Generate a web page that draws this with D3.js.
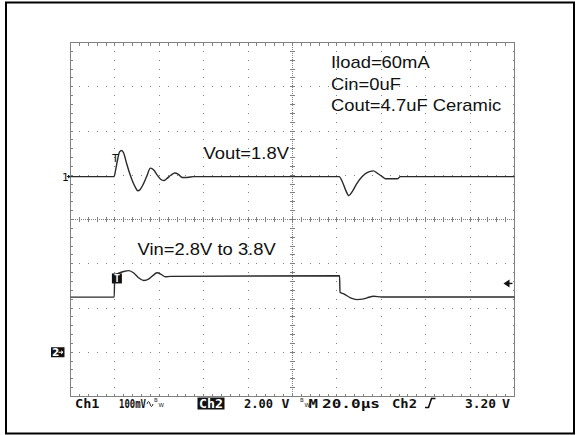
<!DOCTYPE html>
<html>
<head>
<meta charset="utf-8">
<script src="https://cdn.jsdelivr.net/npm/d3@7/dist/d3.min.js"></script>
<style>
  body { margin: 0; background: #fff; }
  svg { display: block; }
</style>
</head>
<body>
<svg id="scope"></svg>
<script>
const W = 576, H = 435;

// horizontal: 20us/div, 10 divisions
const timeRange = [0, 200];

// Ch1: Vout, AC, mV around 1.8V (100mV/div)
const voutT  = [0, 19.6, 20.3, 21.2, 22.1, 23.0, 23.9, 25.2, 26.6, 27.9, 29.3, 30.3, 31.4, 32.8, 34.3, 36.0, 37.5, 39.0, 40.6, 42.0, 43.5, 45.2, 47.0, 48.6, 50.3, 52.5, 55.4,
                121.0, 122.4, 123.9, 125.4, 126.9, 129.1, 131.4, 133.6, 136.4, 138.2, 140.4, 141.9, 147.2, 148.6, 200];
const voutMv = [0, 0, 14, 38, 56, 59, 54, 31, 8, -10, -25, -32, -29, -17, 0, 19, 15, 4, -6, -9, -4, 3, 8, 5, -2, -2, 0,
                0, -11, -30, -43, -34, -15, 0, 9, 13, 7.5, 0, -5, -5, 0, 0];

// Ch2: Vin in volts (2V/div)
const vinT = [0, 19.7, 19.9, 21.5, 24.0, 26.3, 28.5, 30.5, 33.0, 35.5, 37.5, 39.0, 40.8, 42.8, 45.0, 121.2, 121.4, 123.1, 126.1, 129.1, 131.5, 133.6, 136.6, 140.0, 200];
const vinV = [2.49, 2.49, 3.45, 3.56, 3.65, 3.69, 3.58, 3.38, 3.24, 3.33, 3.50, 3.59, 3.52, 3.41, 3.43, 3.46, 2.71, 2.64, 2.46, 2.38, 2.40, 2.46, 2.53, 2.50, 2.50];

const ch1Pos = 0.97, ch1PerDiv = 100;   // mV
const ch2Pos = -3,   ch2PerDiv = 2;     // V
const trigTime = 20, trigLevel = 3.2;

const notes = ["Iload=60mA", "Cin=0uF", "Cout=4.7uF Ceramic"];
const voutLabel = "Vout=1.8V";
const vinLabel = "Vin=2.8V to 3.8V";
const statusLabels = ["Ch1", "100mV", "2.00", "V", "M", "20.0µs", "Ch2", "3.20", "V"];
const ch2BoxLabel = "Ch2";

const svg = d3.select('#scope').attr('width', W).attr('height', H);

svg.append('rect')
  .attr('x', 6).attr('y', 2.5).attr('width', 568).attr('height', 431)
  .attr('fill', 'none').attr('stroke', '#000').attr('stroke-width', 2);

const x = d3.scaleLinear().domain(timeRange).range([70.5, 514.5]);
const div = d3.scaleLinear().domain([-4, 4]).range([396.5, 42.5]);
const y1 = (v) => div(ch1Pos + v / ch1PerDiv);
const y2 = (v) => div(ch2Pos + v / ch2PerDiv);

const gridColor = '#808080';
const grid = svg.append('g').attr('shape-rendering', 'crispEdges');

// frame
grid.append('rect')
  .attr('x', x(0)).attr('y', div(4))
  .attr('width', x(200) - x(0)).attr('height', div(-4) - div(4))
  .attr('fill', 'none').attr('stroke', gridColor);

const minorDivs = d3.range(-4, 4.001, 0.2);
const minorTimes = d3.range(0, 200.001, 4);

// dotted major lines
d3.range(20, 200, 20).filter(t => t !== 100).forEach(t => {
  grid.selectAll(null).data(minorDivs).enter().append('rect')
    .attr('x', x(t) - 0.5).attr('y', d => div(d) - 0.5)
    .attr('width', 1).attr('height', 1).attr('fill', gridColor);
});
[-3, -2, -1, 1, 2, 3].forEach(d => {
  grid.selectAll(null).data(minorTimes).enter().append('rect')
    .attr('x', t => x(t) - 0.5).attr('y', div(d) - 0.5)
    .attr('width', 1).attr('height', 1).attr('fill', gridColor);
});

// center cross with ticks
grid.append('line')
  .attr('x1', x(100)).attr('x2', x(100)).attr('y1', div(4)).attr('y2', div(-4))
  .attr('stroke', gridColor).attr('stroke-dasharray', '1,1');
grid.append('line')
  .attr('x1', x(0)).attr('x2', x(200)).attr('y1', div(0)).attr('y2', div(0))
  .attr('stroke', gridColor).attr('stroke-dasharray', '1,1');
grid.selectAll('.vtick').data(minorDivs).enter().append('line')
  .attr('x1', x(100) - 2.5).attr('x2', x(100) + 2.5)
  .attr('y1', d => div(d)).attr('y2', d => div(d))
  .attr('stroke', gridColor);
grid.selectAll('.htick').data(minorTimes).enter().append('line')
  .attr('x1', t => x(t)).attr('x2', t => x(t))
  .attr('y1', div(0) - 2.5).attr('y2', div(0) + 2.5)
  .attr('stroke', gridColor);

// edge ticks
grid.selectAll('.ttick').data(minorTimes).enter().append('line')
  .attr('x1', t => x(t)).attr('x2', t => x(t))
  .attr('y1', div(4)).attr('y2', div(4) + 3).attr('stroke', gridColor);
grid.selectAll('.btick').data(minorTimes).enter().append('line')
  .attr('x1', t => x(t)).attr('x2', t => x(t))
  .attr('y1', div(-4)).attr('y2', div(-4) - 3).attr('stroke', gridColor);
grid.selectAll('.ltick').data(minorDivs).enter().append('line')
  .attr('x1', x(0)).attr('x2', x(0) + 2)
  .attr('y1', d => div(d)).attr('y2', d => div(d)).attr('stroke', gridColor);
grid.selectAll('.rtick').data(minorDivs).enter().append('line')
  .attr('x1', x(200)).attr('x2', x(200) - 2)
  .attr('y1', d => div(d)).attr('y2', d => div(d)).attr('stroke', gridColor);

// traces
const line1 = d3.line().x(d => x(d[0])).y(d => y1(d[1])).curve(d3.curveMonotoneX);
const line2 = d3.line().x(d => x(d[0])).y(d => y2(d[1])).curve(d3.curveMonotoneX);

svg.append('path')
  .datum(d3.zip(voutT, voutMv))
  .attr('d', line1)
  .attr('fill', 'none').attr('stroke', '#2a2a2a').attr('stroke-width', 1.4);

svg.append('path')
  .datum(d3.zip(vinT, vinV))
  .attr('d', line2)
  .attr('fill', 'none').attr('stroke', '#2a2a2a').attr('stroke-width', 1.4);

// trigger marks
svg.append('text')
  .attr('x', x(trigTime) + 0.5).attr('y', y1(0) - 15)
  .attr('text-anchor', 'middle').attr('fill', '#111')
  .attr('font-family', 'DejaVu Sans Mono').attr('font-size', 11)
  .text('T');

svg.append('rect')
  .attr('x', x(trigTime) - 3).attr('y', y2(trigLevel) - 8)
  .attr('width', 10).attr('height', 10).attr('fill', '#111');
svg.append('text')
  .attr('x', x(trigTime) + 2).attr('y', y2(trigLevel) + 0.5)
  .attr('text-anchor', 'middle').attr('fill', '#fff')
  .attr('font-family', 'DejaVu Sans Mono').attr('font-weight', 'bold').attr('font-size', 10)
  .text('T');

// trigger level arrow at right edge
const ty = y2(trigLevel) + 2;
svg.append('path')
  .attr('d', `M${x(200) - 11},${ty} l6,-4 v8 z`)
  .attr('fill', '#111');
svg.append('line')
  .attr('x1', x(200) - 6).attr('x2', x(200) - 2).attr('y1', ty).attr('y2', ty)
  .attr('stroke', '#111').attr('stroke-width', 1.4);

// channel ground markers
const m1 = div(ch1Pos);
svg.append('text')
  .attr('x', 62).attr('y', m1 + 4)
  .attr('fill', '#111')
  .attr('font-family', 'DejaVu Sans').attr('font-size', 11)
  .text('1');
svg.append('path')
  .attr('d', `M67,${m1} H70 M68,${m1 - 1.5} L70,${m1} L68,${m1 + 1.5}`)
  .attr('fill', 'none').attr('stroke', '#111').attr('stroke-width', 1);

const m2 = div(ch2Pos);
svg.append('rect')
  .attr('x', 51).attr('y', m2 - 5).attr('width', 13.5).attr('height', 10).attr('fill', '#111');
svg.append('text')
  .attr('x', 52).attr('y', m2 + 4)
  .attr('fill', '#fff')
  .attr('font-family', 'DejaVu Sans').attr('font-weight', 'bold').attr('font-size', 10.5)
  .text('2');
svg.append('path')
  .attr('d', `M58.5,${m2} H63 M61,${m2 - 1.5} L63,${m2} L61,${m2 + 1.5}`)
  .attr('fill', 'none').attr('stroke', '#fff').attr('stroke-width', 1);

// annotation text (horizontally stretched like the original capture)
const ann = (s, ax, ay) => svg.append('text')
  .attr('transform', `translate(${ax},${ay}) scale(1.15,1)`)
  .attr('font-family', 'Liberation Sans, Arial, sans-serif').attr('font-size', 16)
  .attr('fill', '#111')
  .text(s);

notes.forEach((s, i) => ann(s, 331, 68 + i * 21.6));
ann(voutLabel, 203.5, 158.5);
ann(vinLabel, 137.5, 254.5);

// status line: each piece squeezed to the width it has on the scope screen
const statusX = [75, 119, 244, 281.5, 308.5, 322, 392, 465, 502];
const statusW = [24.5, 27, 29, 8, 9.5, 58, 25, 31, 8];
const statusY = 408;

function fitText(s, sx, sw, color) {
  const t = svg.append('text')
    .attr('font-family', 'DejaVu Sans Mono').attr('font-weight', 'bold').attr('font-size', 12.5)
    .attr('fill', color)
    .text(s);
  const natural = t.node().getComputedTextLength();
  t.attr('transform', `translate(${sx},${statusY}) scale(${sw / natural},1)`);
  return t;
}

svg.append('rect')
  .attr('x', 197.5).attr('y', 397.5).attr('width', 27).attr('height', 12).attr('fill', '#111');
fitText(ch2BoxLabel, 199, 24, '#fff');

statusLabels.forEach((s, i) => fitText(s, statusX[i], statusW[i], '#111'));

// small bandwidth / coupling symbols
svg.append('path')
  .attr('d', 'M147,404 q1.5,-5 3,0 t3,0')
  .attr('fill', 'none').attr('stroke', '#111').attr('stroke-width', 0.9);
[[154, 402, 'B'], [158.5, 406.5, 'W'], [300, 402, 'B'], [304.5, 406.5, 'W']].forEach(([bx, by, s]) => {
  svg.append('text')
    .attr('x', bx).attr('y', by)
    .attr('font-family', 'DejaVu Sans').attr('font-size', 5.5)
    .attr('fill', '#111')
    .text(s);
});

// trigger slope symbol
svg.append('path')
  .attr('d', 'M425,407.5 H428.5 L431.5,398.5 H435.5')
  .attr('fill', 'none').attr('stroke', '#111').attr('stroke-width', 1.6);
</script>
</body>
</html>
